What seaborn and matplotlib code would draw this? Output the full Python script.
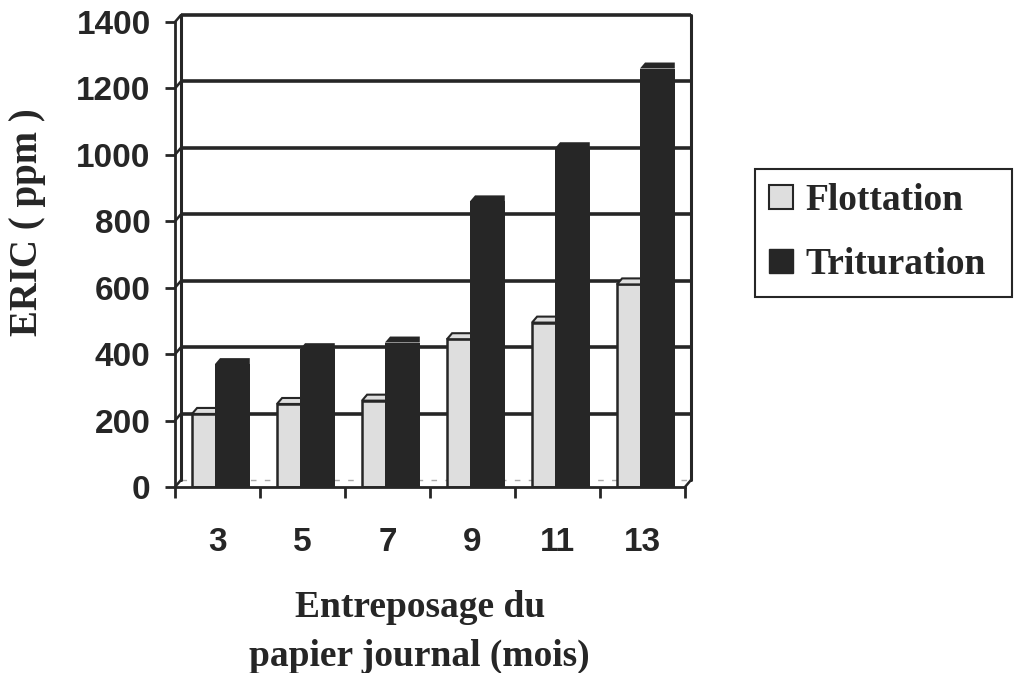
import numpy as np
import pandas as pd
import matplotlib
matplotlib.use("Agg")
import matplotlib.pyplot as plt
import seaborn as sns
from matplotlib.patches import Polygon, Patch

# ERIC (ppm) by newsprint storage time (months)
mois = ["3", "5", "7", "9", "11", "13"]
flottation = [220, 250, 260, 445, 495, 610]
trituration = [370, 415, 435, 860, 1020, 1260]
series = ["Flottation", "Trituration"]
yticks = [0, 200, 400, 600, 800, 1000, 1200, 1400]

DARK = "#262626"
LIGHT = "#dedede"
SERIF = "Liberation Serif"
SANS = "Liberation Sans"

# depth of the pseudo-3D back wall and of the bar caps, in data units
WALL_DX, WALL_DY = 0.07, 21
CAP_DX, CAP_DY = 0.06, 18

df = pd.DataFrame({
    "mois": mois * 2,
    "ERIC": flottation + trituration,
    "procede": [series[0]] * len(mois) + [series[1]] * len(mois),
})

sns.set_theme(style="white")
plt.rcParams["font.family"] = [SANS, "DejaVu Sans"]
plt.rcParams["text.color"] = DARK

fig = plt.figure(figsize=(10.14, 6.73), dpi=100)
ax = fig.add_axes([175 / 1014, 1 - 487 / 673, 510 / 1014, 465 / 673])

sns.barplot(data=df, x="mois", y="ERIC", hue="procede", order=mois,
            hue_order=series, palette={series[0]: LIGHT, series[1]: DARK},
            width=0.82, dodge=True, saturation=1, errorbar=None,
            legend=False, ax=ax)

# light bars sit slightly behind the dark ones
for bar in ax.containers[0]:
    bar.set_x(bar.get_x() + 0.11)
    bar.set_edgecolor(DARK)
    bar.set_linewidth(1.8)
    bar.set_zorder(3)
    x0, x1, v = bar.get_x(), bar.get_x() + bar.get_width(), bar.get_height()
    ax.add_patch(Polygon([(x0, v), (x0 + CAP_DX, v + CAP_DY),
                          (x1 + CAP_DX, v + CAP_DY), (x1, v)],
                         closed=True, facecolor=LIGHT, edgecolor=DARK,
                         linewidth=1.5, zorder=3))
for bar in ax.containers[1]:
    bar.set_x(bar.get_x() - 0.03)
    bar.set_edgecolor("none")
    bar.set_zorder(5)
    x0, x1, v = bar.get_x(), bar.get_x() + bar.get_width(), bar.get_height()
    ax.add_patch(Polygon([(x0, v), (x0 + CAP_DX, v + CAP_DY),
                          (x1, v + CAP_DY), (x1, v)],
                         closed=True, facecolor=DARK, edgecolor="none",
                         zorder=5))

ax.set_xlim(-0.5, len(mois) - 0.5)
ax.set_ylim(0, 1400)

# back wall: gridlines, outline and side-wall connectors
xl, xr = -0.5, len(mois) - 0.5
for v in yticks[1:]:
    ax.plot([xl + WALL_DX, xr + WALL_DX], [v + WALL_DY, v + WALL_DY],
            color=DARK, lw=2.6, zorder=1, clip_on=False,
            solid_capstyle="butt")
ax.plot([xl + WALL_DX, xr + WALL_DX], [WALL_DY, WALL_DY],
        color="#aaaaaa", lw=1, ls=(0, (4, 6)), zorder=1, clip_on=False)
ax.plot([xl + WALL_DX] * 2, [WALL_DY, 1400 + WALL_DY],
        color=DARK, lw=2.2, zorder=1, clip_on=False)
ax.plot([xr + WALL_DX] * 2, [WALL_DY, 1400 + WALL_DY],
        color=DARK, lw=2.2, zorder=1, clip_on=False)
for v in yticks:
    ax.plot([xl, xl + WALL_DX], [v, v + WALL_DY], color=DARK, lw=1.8,
            zorder=1, clip_on=False)
ax.plot([xr, xr + WALL_DX], [0, WALL_DY], color=DARK, lw=1.8,
        zorder=1, clip_on=False)

sns.despine(ax=ax, top=True, right=True)
for side in ("left", "bottom"):
    ax.spines[side].set_color(DARK)
    ax.spines[side].set_linewidth(2.0)
    ax.spines[side].set_zorder(6)

ax.set_yticks(yticks)
ax.set_xticks(range(len(mois)))
ax.set_xticklabels(mois)
ax.set_xticks(np.arange(-0.5, len(mois), 1.0), minor=True)
ax.tick_params(axis="y", left=True, length=7, width=2, direction="out",
               pad=10.5, labelsize=24, color=DARK, labelcolor=DARK)
ax.tick_params(axis="x", which="major", bottom=True, length=0, pad=29,
               labelsize=24, labelcolor=DARK)
ax.tick_params(axis="x", which="minor", bottom=True, length=8, width=2,
               direction="out", color=DARK)
for lab in ax.get_xticklabels() + ax.get_yticklabels():
    lab.set_fontweight("bold")

ax.set_ylabel("ERIC ( ppm )", fontfamily=SERIF, fontweight="bold",
              fontsize=28, color=DARK)
ax.yaxis.set_label_coords(-0.252, 0.57)
ax.set_xlabel("Entreposage du\npapier journal (mois)", fontfamily=SERIF,
              fontweight="bold", fontsize=27, color=DARK, linespacing=1.5)
ax.xaxis.set_label_coords(0.48, -0.222)

handles = [Patch(facecolor=LIGHT, edgecolor=DARK, linewidth=1.5),
           Patch(facecolor=DARK, edgecolor=DARK)]
leg = fig.legend(handles, series, loc="upper left",
                 bbox_to_anchor=(755 / 1014, 1 - 292 / 673, 257 / 1014, 123 / 673),
                 mode="expand", borderaxespad=0, frameon=True, fancybox=False,
                 framealpha=1, edgecolor=DARK, handlelength=0.62,
                 handleheight=0.62, handletextpad=0.35, labelspacing=0.78,
                 borderpad=0.38,
                 prop={"family": SERIF, "weight": "bold", "size": 27})
leg.get_frame().set_linewidth(1.5)

ax.set_facecolor("white")
fig.patch.set_facecolor("white")
fig.savefig("out.png", dpi=100)
